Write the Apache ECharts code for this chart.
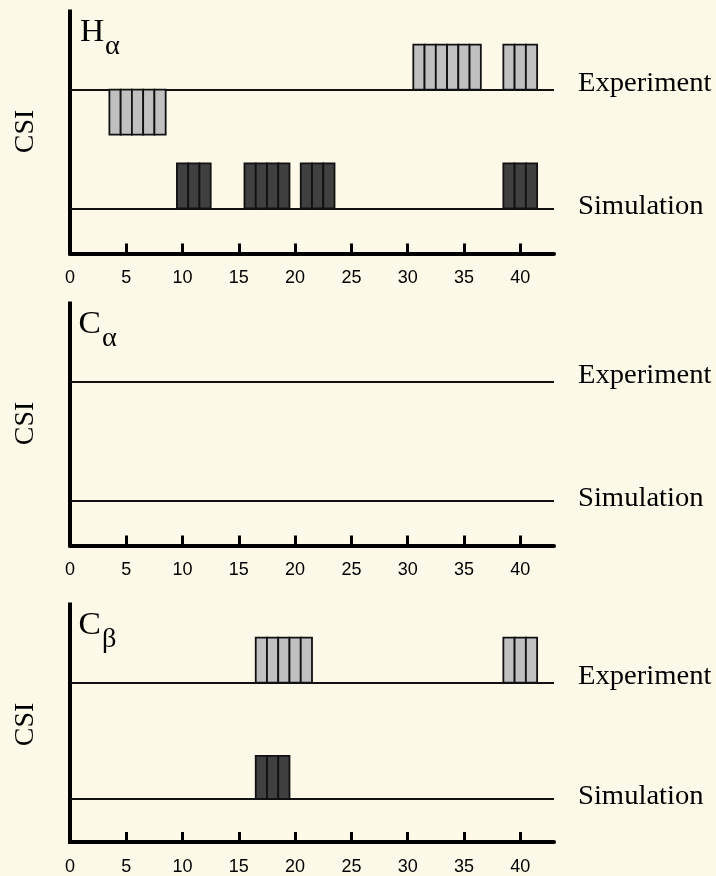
<!DOCTYPE html>
<html>
<head>
<meta charset="utf-8">
<script src="https://cdn.jsdelivr.net/npm/echarts@6/dist/echarts.min.js"></script>
<style>
html,body{margin:0;padding:0;background:#fdf9e8;}
#chart{width:716px;height:876px;}
</style>
</head>
<body>
<div id="chart"></div>
<script>
// ---- data ----
const xTicks = [0, 5, 10, 15, 20, 25, 30, 35, 40];
const panelAtoms = ['H', 'C', 'C'];
const panelSubs = ['α', 'α', 'β'];
const rowLabels = ['Experiment', 'Simulation'];
const yLabel = 'CSI';

const haExpResidues = [4, 5, 6, 7, 8, 31, 32, 33, 34, 35, 36, 39, 40, 41];
const haExpValues   = [-1, -1, -1, -1, -1, 1, 1, 1, 1, 1, 1, 1, 1, 1];
const haSimResidues = [10, 11, 12, 16, 17, 18, 19, 21, 22, 23, 39, 40, 41];
const haSimValues   = [1, 1, 1, 1, 1, 1, 1, 1, 1, 1, 1, 1, 1];

const caExpResidues = [];
const caExpValues   = [];
const caSimResidues = [];
const caSimValues   = [];

const cbExpResidues = [17, 18, 19, 20, 21, 39, 40, 41];
const cbExpValues   = [1, 1, 1, 1, 1, 1, 1, 1];
const cbSimResidues = [17, 18, 19];
const cbSimValues   = [1, 1, 1];

const xMin = 0, xMax = 43;

// ---- layout / style ----
const panelTops = [9.5, 301.5, 602.5];
const gridLeft = 70, gridWidth = 484;
const expH = 139.5, simH = 104.4;
const expRange = [-1.32, 1.78];
const simRange = [-1.0, 1.32];
const lightFill = '#c0c0c0', darkFill = '#404040';
const serif = '"Liberation Serif", "Times New Roman", serif';
const sans = '"Liberation Sans", Arial, sans-serif';

function zip(r, v) { return r.map((x, i) => [x, v[i]]); }
const panelData = [
  [zip(haExpResidues, haExpValues), zip(haSimResidues, haSimValues)],
  [zip(caExpResidues, caExpValues), zip(caSimResidues, caSimValues)],
  [zip(cbExpResidues, cbExpValues), zip(cbSimResidues, cbSimValues)]
];

function makeRender(fill) {
  return function (params, api) {
    const x = api.value(0), v = api.value(1);
    const p0 = api.coord([x - 0.5, 0]);
    const p1 = api.coord([x + 0.5, v]);
    return {
      type: 'rect',
      shape: { x: p0[0], y: Math.min(p0[1], p1[1]), width: p1[0] - p0[0], height: Math.abs(p1[1] - p0[1]) },
      style: { fill: fill, stroke: '#111', lineWidth: 1.8 }
    };
  };
}

const grids = [], xAxes = [], yAxes = [], series = [];
panelTops.forEach((pt, p) => {
  for (let r = 0; r < 2; r++) {
    const gi = p * 2 + r;
    const isSim = r === 1;
    grids.push({
      left: gridLeft, width: gridWidth,
      top: isSim ? pt + expH : pt,
      height: isSim ? simH : expH,
      containLabel: false
    });
    xAxes.push({
      type: 'value', gridIndex: gi, min: xMin, max: xMax, interval: 5,
      show: isSim,
      position: 'bottom',
      axisLine: { show: true, onZero: false, lineStyle: { color: '#000', width: 4 } },
      axisTick: { show: true, inside: true, length: 10, customValues: xTicks,
                  lineStyle: { color: '#000', width: 3 } },
      axisLabel: { show: true, customValues: xTicks, margin: 16, fontSize: 18,
                   fontFamily: sans, color: '#000' },
      splitLine: { show: false }
    });
    const rng = isSim ? simRange : expRange;
    yAxes.push({
      type: 'value', gridIndex: gi, min: rng[0], max: rng[1],
      axisLine: { show: true, onZero: false,
                  lineStyle: { color: '#000', width: 4, cap: isSim ? 'square' : 'butt' } },
      axisTick: { show: false }, axisLabel: { show: false }, splitLine: { show: false }
    });
    series.push({
      type: 'custom', xAxisIndex: gi, yAxisIndex: gi,
      data: panelData[p][r],
      renderItem: makeRender(isSim ? darkFill : lightFill),
      silent: true,
      animation: false,
      z: 3,
      markLine: {
        silent: true, symbol: 'none', animation: false, z: 2,
        label: { show: false },
        lineStyle: { color: '#111', width: 2.2, type: 'solid' },
        data: [{ yAxis: 0 }]
      }
    });
  }
});

const chart = echarts.init(document.getElementById('chart'), null, { renderer: 'canvas' });
chart.setOption({
  backgroundColor: '#fdf9e8',
  animation: false,
  grid: grids, xAxis: xAxes, yAxis: yAxes, series: series
});

// ---- text annotations positioned from the axes ----
const graphics = [];
panelTops.forEach((pt, p) => {
  const expLine = chart.convertToPixel({ gridIndex: p * 2 }, [0, 0])[1];
  const simLine = chart.convertToPixel({ gridIndex: p * 2 + 1 }, [0, 0])[1];
  graphics.push({ type: 'text', x: 578, y: expLine - 5.6, scaleX: 1.06,
    style: { text: rowLabels[0], font: '27px ' + serif, fill: '#000', align: 'left', verticalAlign: 'middle' } });
  graphics.push({ type: 'text', x: 578, y: simLine - 1.6, scaleX: 1.06,
    style: { text: rowLabels[1], font: '27px ' + serif, fill: '#000', align: 'left', verticalAlign: 'middle' } });
  graphics.push({ type: 'text', x: 26, y: pt + 122, rotation: Math.PI / 2,
    style: { text: yLabel, font: '28px ' + serif, fill: '#000', align: 'center', verticalAlign: 'middle' } });
  graphics.push({ type: 'text', x: p === 0 ? 80 : 78.5, y: pt + 23, scaleX: 1.05,
    style: { text: panelAtoms[p], font: '32px ' + serif, fill: '#000', align: 'left', verticalAlign: 'middle' } });
  graphics.push({ type: 'text', x: p === 0 ? 105 : 102, y: pt + 37, scaleX: 1.05,
    style: { text: panelSubs[p], font: '27px ' + serif, fill: '#000', align: 'left', verticalAlign: 'middle' } });
});
chart.setOption({ graphic: graphics });
</script>
</body>
</html>
